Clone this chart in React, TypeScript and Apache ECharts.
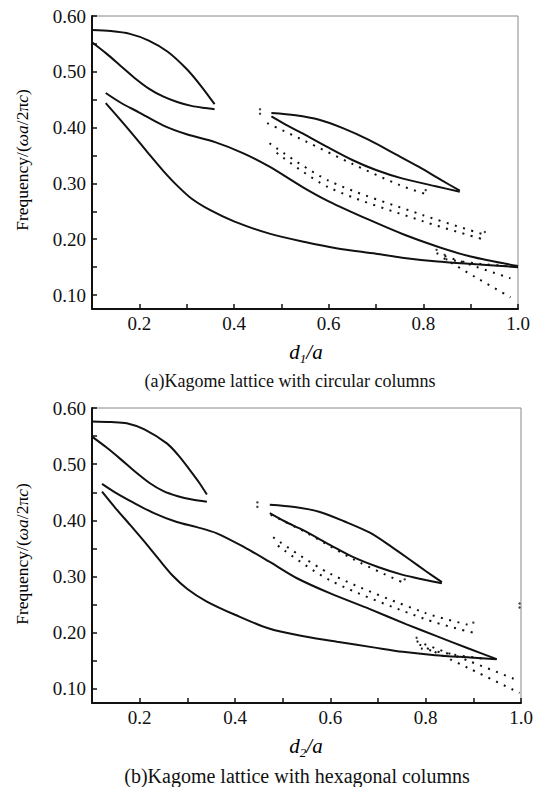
import React, { useEffect, useRef } from "react";
import * as echarts from "echarts";

// ---------- axis ticks / labels ----------
const xTickValues = [0.2, 0.3, 0.4, 0.5, 0.6, 0.7, 0.8, 0.9, 1.0];
const xLabelValues = [0.2, 0.4, 0.6, 0.8, 1.0];
const yTickValues = [0.1, 0.15, 0.2, 0.25, 0.3, 0.35, 0.4, 0.45, 0.5, 0.55, 0.6];
const yLabelValues = [0.1, 0.2, 0.3, 0.4, 0.5, 0.6];

// ---------- (a) circular columns: solid band edges ----------
const aBand1Upper = [[0.10, 0.575], [0.14, 0.573], [0.18, 0.568], [0.22, 0.556], [0.26, 0.536], [0.30, 0.505], [0.33, 0.475], [0.359, 0.442]];
const aBand1Lower = [[0.10, 0.553], [0.13, 0.533], [0.16, 0.511], [0.19, 0.489], [0.22, 0.470], [0.25, 0.456], [0.28, 0.446], [0.31, 0.439], [0.34, 0.435], [0.359, 0.433]];
const aBand2Upper = [[0.129, 0.462], [0.16, 0.445], [0.20, 0.427], [0.25, 0.404], [0.30, 0.388], [0.36, 0.374], [0.42, 0.354], [0.475, 0.33], [0.544, 0.294], [0.60, 0.268], [0.685, 0.235], [0.76, 0.208], [0.826, 0.188], [0.90, 0.169], [1.0, 0.152]];
const aBand2Lower = [[0.129, 0.444], [0.16, 0.414], [0.19, 0.384], [0.22, 0.353], [0.25, 0.323], [0.28, 0.296], [0.31, 0.273], [0.35, 0.252], [0.40, 0.232], [0.475, 0.21], [0.55, 0.195], [0.616, 0.184], [0.70, 0.174], [0.755, 0.167], [0.83, 0.160], [0.896, 0.156], [1.0, 0.150]];
const aLensUpper = [[0.479, 0.426], [0.53, 0.422], [0.58, 0.414], [0.63, 0.399], [0.685, 0.378], [0.74, 0.353], [0.79, 0.33], [0.84, 0.305], [0.877, 0.287]];
const aLensLower = [[0.479, 0.42], [0.51, 0.405], [0.544, 0.39], [0.60, 0.364], [0.65, 0.342], [0.70, 0.324], [0.755, 0.309], [0.826, 0.295], [0.877, 0.285]];

// ---------- (a) dotted rows ----------
const aDotRow1 = [[0.47, 0.408], [0.55, 0.376], [0.65, 0.335], [0.75, 0.297], [0.805, 0.281]];
const aDotRow2 = [[0.475, 0.372], [0.6, 0.305], [0.8, 0.243], [0.93, 0.208]];
const aDotRow3 = [[0.49, 0.355], [0.6, 0.293], [0.8, 0.232], [0.93, 0.199]];
const aDotRowA = [[0.828, 0.175], [0.90, 0.154], [0.984, 0.130]];
const aDotRowB = [[0.843, 0.166], [0.91, 0.132], [0.984, 0.096]];
const aDotRowC = [[0.847, 0.164], [0.92, 0.156], [0.995, 0.151]];
const aDotPairs = [[0.455, 0.433], [0.455, 0.425], [0.805, 0.288], [0.93, 0.213], [0.828, 0.181], [0.845, 0.172]];

// ---------- (b) hexagonal columns: solid band edges ----------
const bBand1Upper = [[0.10, 0.576], [0.14, 0.575], [0.173, 0.573], [0.21, 0.562], [0.257, 0.537], [0.28, 0.517], [0.305, 0.49], [0.325, 0.467], [0.341, 0.446]];
const bBand1Lower = [[0.10, 0.549], [0.13, 0.530], [0.16, 0.509], [0.19, 0.487], [0.22, 0.467], [0.25, 0.452], [0.28, 0.443], [0.31, 0.437], [0.341, 0.433]];
const bBand2Upper = [[0.121, 0.465], [0.15, 0.449], [0.186, 0.432], [0.23, 0.413], [0.278, 0.397], [0.32, 0.388], [0.362, 0.377], [0.42, 0.352], [0.473, 0.326], [0.53, 0.297], [0.60, 0.27], [0.683, 0.242], [0.76, 0.215], [0.823, 0.194], [0.89, 0.172], [0.949, 0.153]];
const bBand2Lower = [[0.121, 0.451], [0.15, 0.421], [0.18, 0.392], [0.21, 0.362], [0.24, 0.331], [0.27, 0.301], [0.30, 0.278], [0.34, 0.256], [0.40, 0.232], [0.473, 0.207], [0.55, 0.193], [0.614, 0.184], [0.69, 0.174], [0.752, 0.166], [0.82, 0.160], [0.893, 0.156], [0.949, 0.153]];
const bLensUpper = [[0.473, 0.428], [0.525, 0.424], [0.578, 0.415], [0.63, 0.398], [0.683, 0.378], [0.73, 0.352], [0.767, 0.33], [0.80, 0.31], [0.834, 0.29]];
const bLensLower = [[0.473, 0.413], [0.505, 0.398], [0.542, 0.383], [0.60, 0.356], [0.647, 0.335], [0.70, 0.317], [0.752, 0.303], [0.80, 0.294], [0.834, 0.288]];

// ---------- (b) dotted rows ----------
const bDotRow1 = [[0.475, 0.41], [0.55, 0.378], [0.65, 0.33], [0.756, 0.288]];
const bDotRow2 = [[0.48, 0.37], [0.6, 0.305], [0.8, 0.235], [0.90, 0.212]];
const bDotRow3 = [[0.49, 0.355], [0.6, 0.293], [0.8, 0.224], [0.90, 0.200]];
const bDotRowA = [[0.781, 0.185], [0.89, 0.15], [0.997, 0.114]];
const bDotRowB = [[0.787, 0.179], [0.89, 0.137], [0.997, 0.093]];
const bDotRowC = [[0.79, 0.172], [0.86, 0.161], [0.93, 0.153]];
const bDotPairs = [[0.447, 0.432], [0.447, 0.424], [0.756, 0.295], [0.90, 0.218], [0.997, 0.252], [0.997, 0.245], [0.781, 0.191]];

const FONT = "Liberation Serif, Times New Roman, Times, serif";
const INK = "#111";

function axisPair(gridIndex: number) {
  const x = {
    type: "value",
    gridIndex,
    min: 0.1,
    max: 1.0,
    axisLine: { show: true, onZero: false, lineStyle: { color: INK, width: 2 } },
    axisTick: { show: true, inside: true, length: 5, customValues: xTickValues, lineStyle: { color: INK, width: 1.5 } },
    axisLabel: {
      customValues: xLabelValues,
      formatter: (v: number) => v.toFixed(1),
      fontFamily: FONT,
      fontSize: 19,
      color: INK,
      margin: 5,
    },
    splitLine: { show: false },
  };
  const y = {
    type: "value",
    gridIndex,
    min: 0.075,
    max: 0.6,
    axisLine: { show: true, onZero: false, lineStyle: { color: INK, width: 2 } },
    axisTick: { show: true, inside: true, length: 5, customValues: yTickValues, lineStyle: { color: INK, width: 1.5 } },
    axisLabel: {
      customValues: yLabelValues,
      formatter: (v: number) => v.toFixed(2),
      fontFamily: FONT,
      fontSize: 19,
      color: INK,
      margin: 6,
    },
    splitLine: { show: false },
  };
  return { x, y };
}

function solid(data: number[][], idx: number) {
  return {
    type: "line",
    xAxisIndex: idx,
    yAxisIndex: idx,
    data,
    smooth: 0.3,
    symbol: "none",
    lineStyle: { color: INK, width: 2 },
    silent: true,
  };
}

function dotted(data: number[][], idx: number) {
  return {
    type: "line",
    xAxisIndex: idx,
    yAxisIndex: idx,
    data,
    smooth: 0.3,
    symbol: "none",
    lineStyle: { color: "#111", width: 2, type: [2, 6.5] },
    silent: true,
  };
}

function pairs(data: number[][], idx: number) {
  return {
    type: "scatter",
    xAxisIndex: idx,
    yAxisIndex: idx,
    data,
    symbol: "circle",
    symbolSize: 2.4,
    itemStyle: { color: "#111" },
    silent: true,
  };
}

export default function App() {
  const ref = useRef<HTMLDivElement>(null);

  useEffect(() => {
    if (!ref.current) return;
    const chart = echarts.init(ref.current, undefined, { renderer: "svg" });
    const a = axisPair(0);
    const b = axisPair(1);

    const rich = {
      n: { fontFamily: FONT, fontSize: 17.5, color: INK },
      i: { fontFamily: FONT, fontSize: 17.5, fontStyle: "italic", color: INK },
    };
    const xnameRich = {
      i: { fontFamily: FONT, fontSize: 21, fontStyle: "italic", color: INK, lineHeight: 26 },
      s: { fontFamily: FONT, fontSize: 13, fontStyle: "italic", color: INK, verticalAlign: "bottom", lineHeight: 13 },
    };

    chart.setOption({
      animation: false,
      backgroundColor: "#fff",
      grid: [
        { left: 92, top: 16, width: 426, height: 293, show: true, borderColor: "#888", borderWidth: 1, backgroundColor: "transparent" },
        { left: 92, top: 408, width: 429, height: 295, show: true, borderColor: "#888", borderWidth: 1, backgroundColor: "transparent" },
      ],
      xAxis: [a.x, b.x],
      yAxis: [a.y, b.y],
      series: [
        solid(aBand1Upper, 0),
        solid(aBand1Lower, 0),
        solid(aBand2Upper, 0),
        solid(aBand2Lower, 0),
        solid(aLensUpper, 0),
        solid(aLensLower, 0),
        dotted(aDotRow1, 0),
        dotted(aDotRow2, 0),
        dotted(aDotRow3, 0),
        dotted(aDotRowA, 0),
        dotted(aDotRowB, 0),
        dotted(aDotRowC, 0),
        pairs(aDotPairs, 0),
        solid(bBand1Upper, 1),
        solid(bBand1Lower, 1),
        solid(bBand2Upper, 1),
        solid(bBand2Lower, 1),
        solid(bLensUpper, 1),
        solid(bLensLower, 1),
        dotted(bDotRow1, 1),
        dotted(bDotRow2, 1),
        dotted(bDotRow3, 1),
        dotted(bDotRowA, 1),
        dotted(bDotRowB, 1),
        dotted(bDotRowC, 1),
        pairs(bDotPairs, 1),
      ],
      graphic: [
        {
          type: "text",
          x: 22,
          y: 160,
          rotation: Math.PI / 2,
          style: { text: "{n|Frequency/(}{i|ωa}{n|/2π}{i|c}{n|)}", rich, align: "center", verticalAlign: "middle" },
        },
        {
          type: "text",
          x: 22,
          y: 554,
          rotation: Math.PI / 2,
          style: { text: "{n|Frequency/(}{i|ωa}{n|/2π}{i|c}{n|)}", rich, align: "center", verticalAlign: "middle" },
        },
        {
          type: "text",
          x: 306,
          y: 352,
          style: { text: "{i|d}{s|1}{i|/a}", rich: xnameRich, align: "center", verticalAlign: "middle" },
        },
        {
          type: "text",
          x: 306,
          y: 746,
          style: { text: "{i|d}{s|2}{i|/a}", rich: xnameRich, align: "center", verticalAlign: "middle" },
        },
        {
          type: "text",
          x: 290,
          y: 381,
          style: { text: "(a)Kagome lattice with circular columns", fontFamily: FONT, fontSize: 18, fill: INK, align: "center", verticalAlign: "middle" },
        },
        {
          type: "text",
          x: 297,
          y: 776,
          style: { text: "(b)Kagome lattice with hexagonal columns", fontFamily: FONT, fontSize: 20, fill: INK, align: "center", verticalAlign: "middle" },
        },
      ],
    });
    return () => chart.dispose();
  }, []);

  return (
    <div
      ref={ref}
      style={{ position: "absolute", left: 0, top: 0, width: 538, height: 787, background: "#fff" }}
    />
  );
}
